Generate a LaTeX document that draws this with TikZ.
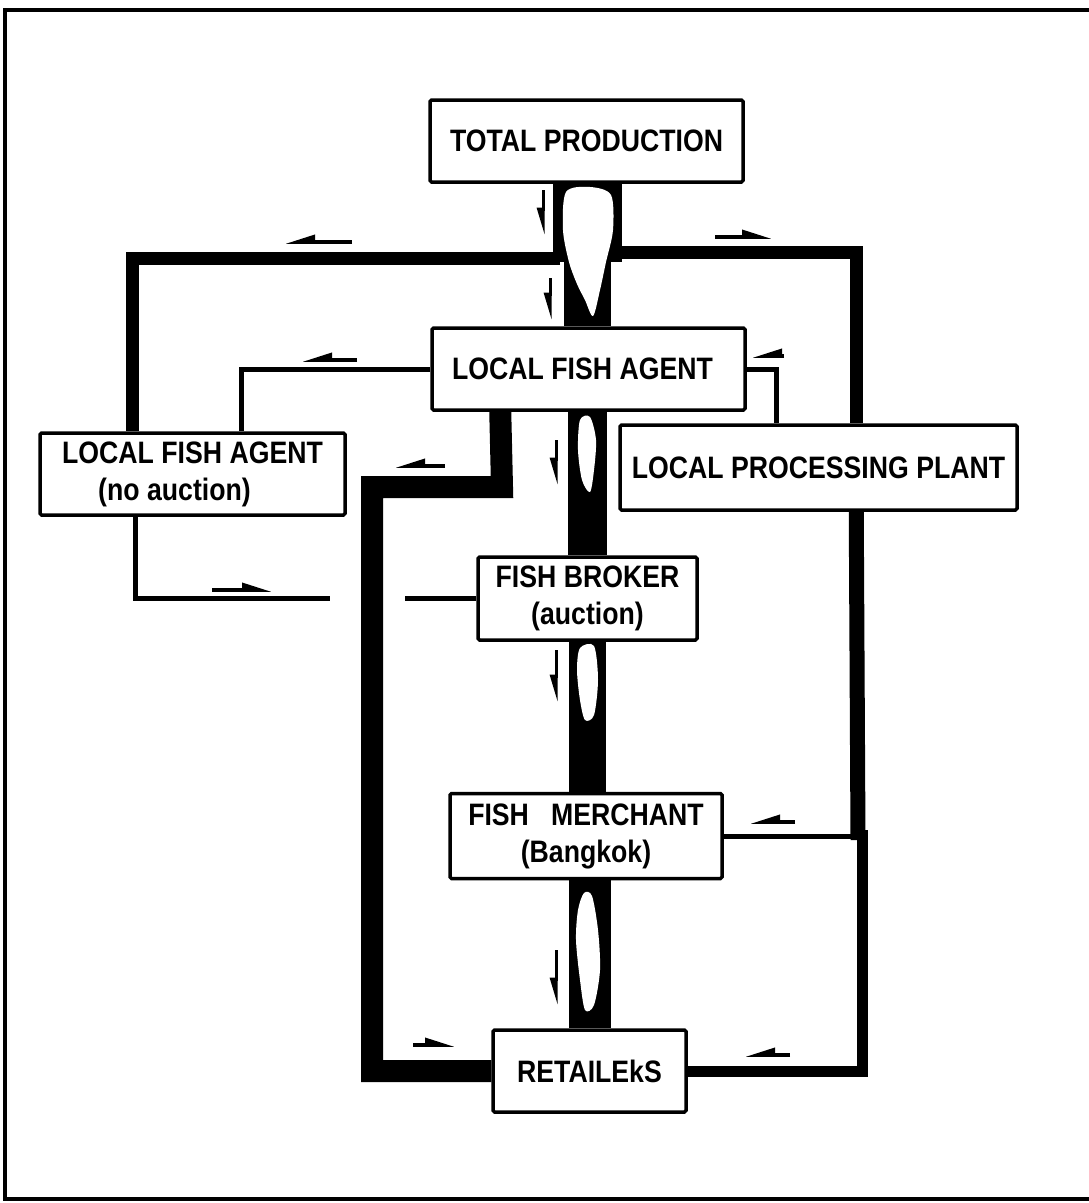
\documentclass[tikz,border=0pt]{standalone}
\usepackage{fontspec}
\newfontfamily\labfont{Liberation Sans}[FakeStretch=0.86]
\usetikzlibrary{arrows.meta}
\pgfdeclarelayer{bg}
\pgfsetlayers{bg,main}
\begin{document}
\begin{tikzpicture}[x=1pt,y=-1pt,
  box/.style={draw, line width=3.5pt, fill=white, rounded corners=1.5pt, inner sep=0pt,
    align=center, font=\labfont\bfseries\fontsize{31}{37}\selectfont},
  heavy/.style={line width=13pt},
  thinline/.style={line width=5pt},
  fl/.style={line width=3.5pt, -{Triangle[right, length=24pt, width=14pt]}},
  fr/.style={line width=3.5pt, -{Triangle[left, length=24pt, width=14pt]}},
  fd/.style={line width=3pt, -{Triangle[right, length=22pt, width=12pt]}},
  blob/.style={fill=white}]
\useasboundingbox (0,0) rectangle (1089,1203);
% frame
\draw[line width=4.5pt] (1095,10) -- (5,10) -- (5,1199) -- (1095,1199);
% boxes
\node[box, minimum width=313pt, minimum height=82pt] (tp) at (586.5,141) {TOTAL PRODUCTION};
\node[box, minimum width=313pt, minimum height=82pt] (lfa) at (588.5,369) {LOCAL FISH AGENT\hspace*{12pt}};
\node[box, minimum width=305pt, minimum height=82pt] (lfana) at (192.5,474) {LOCAL FISH AGENT\\(no auction)\hspace*{36pt}};
\node[box, minimum width=397pt, minimum height=85pt] (lpp) at (818.5,467.5) {LOCAL PROCESSING PLANT};
\node[box, minimum width=219pt, minimum height=83pt] (broker) at (587.5,598.5) {FISH BROKER\\(auction)};
\node[box, minimum width=272pt, minimum height=85pt] (merchant) at (586,836) {FISH \ \ MERCHANT\\(Bangkok)};
\node[box, minimum width=193pt, minimum height=82pt] (retail) at (589.5,1071) {RETAILEkS};
\begin{pgfonlayer}{bg}
% junction coordinates
\coordinate (j1) at (587.5,262);
\coordinate (tl) at (560,258);
\coordinate (tr) at (615,252);
\coordinate (rjA) at (858,840);
\coordinate (rjB) at (862,830);
\coordinate (gapL) at (330,598.5);
\coordinate (gapR) at (405,598.5);
\coordinate (k1) at (502,487);
\coordinate (k2) at (372,487);
% heavy distribution lines
\draw[heavy] (tl) -| ([xshift=94pt]lfana.north west);
\draw[heavy] (tr) -| ([xshift=238pt]lpp.north west);
\draw[line width=15pt] ([xshift=238pt]lpp.south west) -- (rjA);
\draw[line width=11pt] (rjB) |- (retail.east);
\draw[thinline] (merchant.east) -- (merchant.east -| rjA);
\draw[line width=22pt] ([xshift=70pt]lfa.south west) -- (k1) -- (k2) |- (retail.west);
% thin connectors
\draw[thinline] (lfa.west) -| ([xshift=203pt]lfana.north west);
\draw[thinline] (lfa.east) -| ([xshift=158pt]lpp.north west);
\draw[thinline] ([xshift=97pt]lfana.south west) |- (gapL);
\draw[thinline] (gapR) -- (broker.west);
% main pipe
\draw[line width=69pt] (j1 |- tp.south) -- (j1);
\draw[line width=47pt] (j1) -- (j1 |- lfa.north);
\draw[line width=39pt] (broker.north |- lfa.south) -- (broker.north);
\draw[line width=37pt] (broker.south) -- (broker.south |- merchant.north);
\draw[line width=42pt] (retail.north |- merchant.south) -- (retail.north);
% light interior of the pipe
\fill[blob] plot[smooth cycle] coordinates {(566,192) (590,187) (611,195) (613,230) (606,262) (600,290) (593,316) (585,300) (577,284) (569,262) (563,230)};
\fill[blob] plot[smooth cycle] coordinates {(580,420) (590,417) (596,440) (594,470) (590,492) (582,480) (578,450)};
\fill[blob] plot[smooth cycle] coordinates {(580,648) (594,646) (598,680) (594,715) (585,720) (580,700) (577,670)};
\fill[blob] plot[smooth cycle] coordinates {(584,893) (592,896) (598,930) (600,970) (594,1005) (585,1010) (580,980) (576,940) (578,910)};
\end{pgfonlayer}
% flow marks
\draw[fl] (352,242) -- (285,242);
\draw[fr] (715,237) -- (772,237);
\draw[fl] (357,360) -- (302,360);
\draw[fl] (445,466) -- (395,466);
\draw[fr] (212,590) -- (272,590);
\draw[fl] (784,356) -- (752,356);
\draw[fl] (795,822) -- (750,822);
\draw[fl] (790,1055) -- (745,1055);
\draw[fr] (413,1045) -- (455,1045);
\draw[fd] (543,190) -- (543,235);
\draw[fd] (550,278) -- (550,320);
\draw[fd] (556,440) -- (556,485);
\draw[fd] (556,650) -- (556,702);
\draw[fd] (556,950) -- (556,1005);
\end{tikzpicture}
\end{document}
